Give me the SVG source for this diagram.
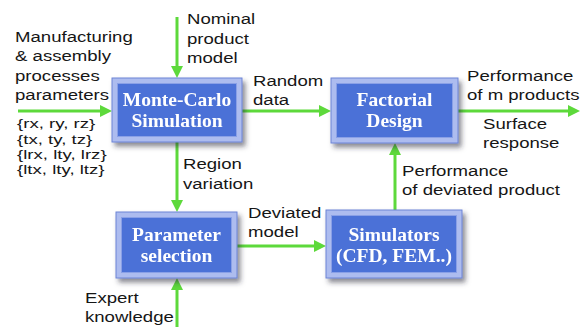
<svg xmlns="http://www.w3.org/2000/svg" width="581" height="327" viewBox="0 0 581 327">
<style>
.lbl{font-family:"Liberation Sans",Arial,sans-serif;font-size:15px;fill:#161616}
.sm{font-size:13.3px}
.nt{font-family:"Liberation Serif","Times New Roman",serif;font-size:19.5px;font-weight:bold;fill:#ffffff;text-anchor:middle}
.outer{fill:#adbcef;stroke:#6c84d6;stroke-width:1}
.inner{fill:#4b71d7;stroke:#8aa0e6;stroke-width:1}
.con{stroke:#5dd93b;stroke-width:3;fill:none;marker-end:url(#ah)}
</style>
<defs>
<marker id="ah" markerUnits="userSpaceOnUse" markerWidth="12" markerHeight="12" viewBox="0 0 12 12" refX="8" refY="6" orient="auto">
<path d="M0,0 L12,6 L0,12 z" fill="#5dd93b"/>
</marker>
<filter id="sh" x="-10%" y="-10%" width="130%" height="140%">
<feGaussianBlur in="SourceAlpha" stdDeviation="2.5"/>
<feOffset dx="3" dy="4" result="b"/>
<feFlood flood-color="#2a2a3a" flood-opacity="0.55"/>
<feComposite in2="b" operator="in"/>
<feMerge><feMergeNode/><feMergeNode in="SourceGraphic"/></feMerge>
</filter>
</defs>
<rect width="581" height="327" fill="#ffffff"/>

<g id="connectors">
<line class="con" x1="18" y1="111" x2="108" y2="111"/>
<line class="con" x1="177" y1="17" x2="177" y2="74"/>
<line class="con" x1="242" y1="111" x2="327" y2="111"/>
<line class="con" x1="458" y1="111" x2="576" y2="111"/>
<line class="con" x1="177" y1="142" x2="177" y2="208"/>
<line class="con" x1="177" y1="327" x2="177" y2="282"/>
<line class="con" x1="237" y1="246" x2="322" y2="246"/>
<line class="con" x1="395" y1="210" x2="395" y2="147"/>
</g>

<g id="node-montecarlo" filter="url(#sh)">
<rect class="outer" x="112" y="78" width="130" height="64"/>
<rect class="inner" x="117.5" y="83.5" width="119" height="53"/>
<text class="nt" x="177" y="106">Monte-Carlo</text>
<text class="nt" x="177" y="127">Simulation</text>
</g>

<g id="node-factorial" filter="url(#sh)">
<rect class="outer" x="331" y="78" width="127" height="65"/>
<rect class="inner" x="336.5" y="83.5" width="116" height="54"/>
<text class="nt" x="394.5" y="106">Factorial</text>
<text class="nt" x="394.5" y="127">Design</text>
</g>

<g id="node-parameter" filter="url(#sh)">
<rect class="outer" x="116" y="212" width="121" height="66"/>
<rect class="inner" x="121.5" y="217.5" width="110" height="55"/>
<text class="nt" x="176.5" y="241">Parameter</text>
<text class="nt" x="176.5" y="262">selection</text>
</g>

<g id="node-simulators" filter="url(#sh)">
<rect class="outer" x="326" y="210" width="136" height="68"/>
<rect class="inner" x="331.5" y="215.5" width="125" height="57"/>
<text class="nt" x="394" y="241">Simulators</text>
<text class="nt" x="394" y="262">(CFD, FEM..)</text>
</g>

<g id="labels">
<text class="lbl" transform="translate(15,0) scale(1.24,1)"><tspan x="0" y="42">Manufacturing</tspan><tspan x="0" y="61.5">&amp; assembly</tspan><tspan x="0" y="81">processes</tspan><tspan x="0" y="100.5">parameters</tspan></text>
<text class="lbl sm" transform="translate(17,0) scale(1.4,1)"><tspan x="0" y="128.5">{rx, ry, rz}</tspan><tspan x="0" y="143.8">{tx, ty, tz}</tspan><tspan x="0" y="159.1">{lrx, lty, lrz}</tspan><tspan x="0" y="174.4">{ltx, lty, ltz}</tspan></text>
<text class="lbl" transform="translate(187,0) scale(1.24,1)"><tspan x="0" y="24.5">Nominal</tspan><tspan x="0" y="44">product</tspan><tspan x="0" y="63.5">model</tspan></text>
<text class="lbl" transform="translate(253,0) scale(1.24,1)"><tspan x="0" y="86">Random</tspan><tspan x="0" y="105">data</tspan></text>
<text class="lbl" transform="translate(467,0) scale(1.24,1)"><tspan x="0" y="81">Performance</tspan><tspan x="0" y="100">of m products</tspan></text>
<text class="lbl" transform="translate(483,0) scale(1.24,1)"><tspan x="0" y="129">Surface</tspan><tspan x="0" y="148">response</tspan></text>
<text class="lbl" transform="translate(183,0) scale(1.24,1)"><tspan x="0" y="169">Region</tspan><tspan x="0" y="189">variation</tspan></text>
<text class="lbl" transform="translate(248,0) scale(1.24,1)"><tspan x="0" y="218">Deviated</tspan><tspan x="0" y="237">model</tspan></text>
<text class="lbl" transform="translate(402,0) scale(1.24,1)"><tspan x="0" y="176">Performance</tspan><tspan x="0" y="195">of deviated product</tspan></text>
<text class="lbl" transform="translate(85,0) scale(1.24,1)"><tspan x="0" y="303.5">Expert</tspan><tspan x="0" y="322">knowledge</tspan></text>
</g>
</svg>
